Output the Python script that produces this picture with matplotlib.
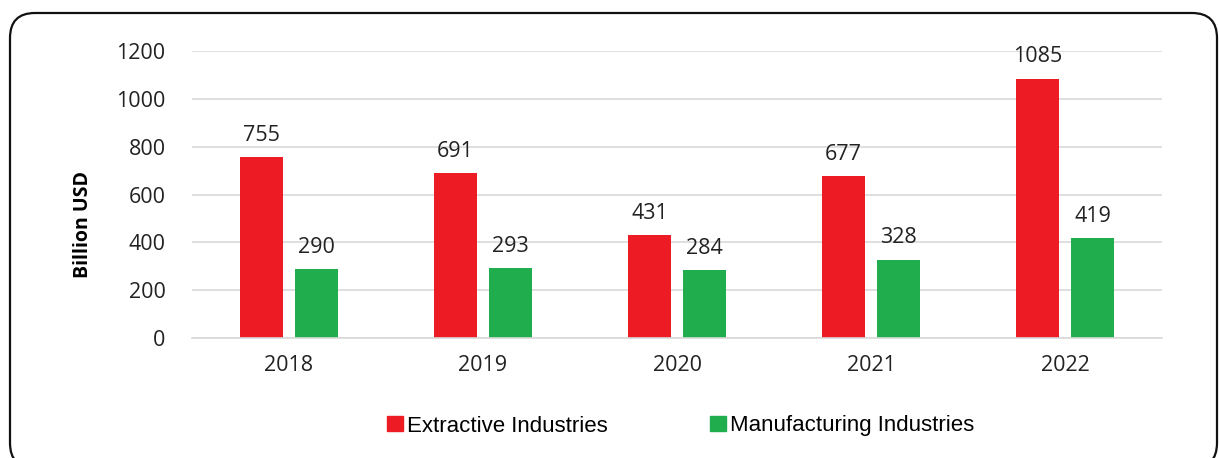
import matplotlib.pyplot as plt
from matplotlib.patches import FancyBboxPatch, Patch
from matplotlib.transforms import IdentityTransform
import numpy as np

years = ["2018", "2019", "2020", "2021", "2022"]
extractive = [755, 691, 431, 677, 1085]
manufacturing = [290, 293, 284, 328, 419]

red = "#ED1C24"
green = "#1FAD4E"

plt.rcParams["font.family"] = ["Open Sans", "DejaVu Sans"]

fig = plt.figure(figsize=(12.19, 4.58), dpi=100)
ax = fig.add_axes([0.1575, 0.262, 0.7958, 0.6266])

x = np.arange(len(years))
w = 0.222
b1 = ax.bar(x - 0.142, extractive, w, color=red)
b2 = ax.bar(x + 0.142, manufacturing, w, color=green)

for bars, vals in [(b1, extractive), (b2, manufacturing)]:
    for r, v in zip(bars, vals):
        ax.annotate(str(v), (r.get_x() + r.get_width() / 2, v),
                    xytext=(0, 8), textcoords="offset points",
                    ha="center", va="bottom", fontsize=15.5, color="#222222")

ax.set_xlim(-0.5, 4.5)
ax.set_ylim(0, 1200)
ax.set_yticks(range(0, 1201, 200))
ax.set_xticks(x)
ax.set_xticklabels(years)
ax.tick_params(axis="both", length=0, labelsize=15.5, labelcolor="#222222")
ax.tick_params(axis="y", pad=19)
ax.tick_params(axis="x", pad=12)
ax.grid(axis="y", color="#d9d9d9", linewidth=1.2)
ax.set_axisbelow(True)
for s in ["top", "right", "left"]:
    ax.spines[s].set_visible(False)
ax.spines["bottom"].set_color("#d9d9d9")
ax.spines["bottom"].set_linewidth(1.2)

fig.text(0.068, 1 - 224 / 458, "Billion USD", rotation=90, ha="center",
         va="center", fontsize=14, fontweight="bold")

handles = [Patch(color=red, label="Extractive Industries"),
           Patch(color=green, label="Manufacturing Industries")]
fig.legend(handles=handles, loc="center", bbox_to_anchor=(0.558, 1 - 426 / 458),
           ncol=2, frameon=False, handlelength=0.75, handleheight=0.65,
           handletextpad=0.15, columnspacing=4.6,
           prop={"family": "Liberation Sans", "size": 16})

box = FancyBboxPatch((10, -10), 1207, 455, boxstyle="round,pad=0,rounding_size=25",
                     transform=IdentityTransform(), fill=False,
                     edgecolor="#111111", linewidth=1.6)
fig.patches.append(box)

fig.savefig("out.png", dpi=100)
